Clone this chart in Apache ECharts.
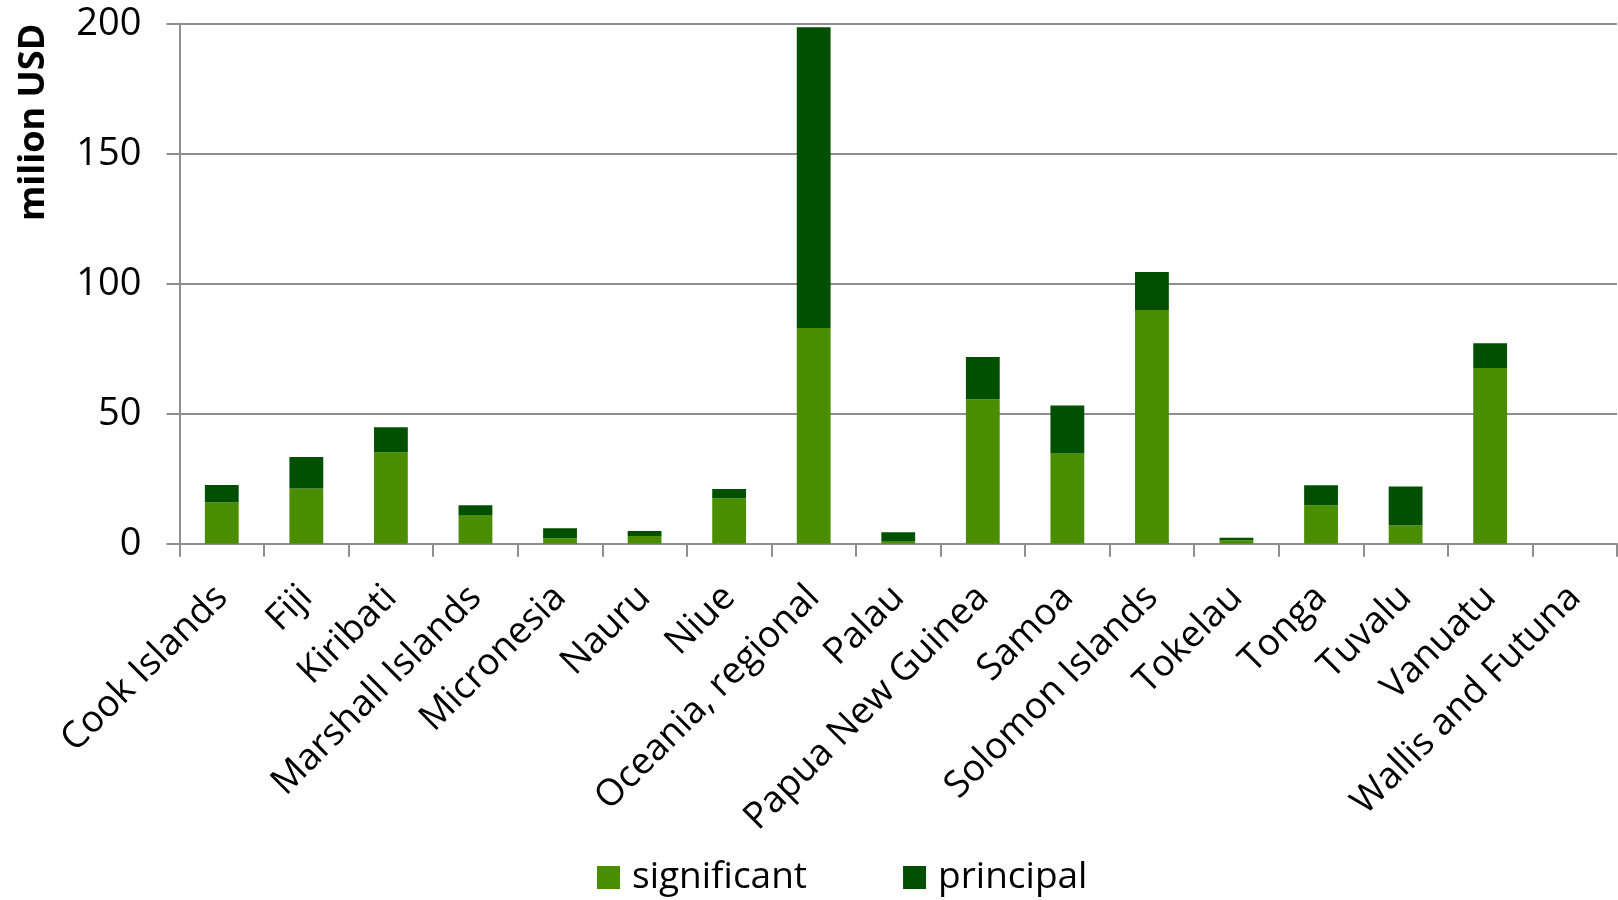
<!DOCTYPE html>
<html>
<head>
<meta charset="utf-8">
<script src="https://cdn.jsdelivr.net/npm/echarts@6/dist/echarts.min.js"></script>
<style>
html,body{margin:0;padding:0;background:#fff;}
#chart{width:1618px;height:900px;}
</style>
</head>
<body>
<div id="chart"></div>
<script>
const categories = ["Cook Islands","Fiji","Kiribati","Marshall Islands","Micronesia","Nauru","Niue","Oceania, regional","Palau","Papua New Guinea","Samoa","Solomon Islands","Tokelau","Tonga","Tuvalu","Vanuatu","Wallis and Futuna"];
const significant = [15.9, 21.2, 35.2, 11.0, 2.1, 3.0, 17.5, 83.0, 1.0, 55.6, 34.9, 89.9, 1.3, 14.8, 7.1, 67.6, 0];
const principal   = [6.7, 12.1, 9.6, 3.8, 3.8, 1.9, 3.5, 115.6, 3.4, 16.2, 18.3, 14.6, 1.0, 7.7, 14.9, 9.5, 0];
const yTicks = [0, 50, 100, 150, 200];

const FONT = '"Open Sans", sans-serif';
const chart = echarts.init(document.getElementById('chart'));
chart.setOption({
  animation: false,
  textStyle: { fontFamily: FONT, color: '#000' },
  grid: { left: 179.5, right: 1, top: 23.7, bottom: 356.3, containLabel: false },
  legend: {
    data: ['significant', 'principal'],
    top: 854,
    left: 592,
    itemWidth: 23,
    itemHeight: 23,
    itemGap: 96,
    icon: 'rect',
    textStyle: { fontFamily: FONT, fontSize: 37, color: '#000', padding: [0, 0, 0, 7] }
  },
  xAxis: {
    type: 'category',
    data: categories,
    axisLine: { lineStyle: { color: '#8e8e8e', width: 2 } },
    axisTick: { show: true, length: 13, lineStyle: { color: '#8e8e8e', width: 2 }, alignWithLabel: false },
    axisLabel: { rotate: 45, fontSize: 37, color: '#000', margin: 48, interval: 0, fontFamily: FONT }
  },
  yAxis: {
    type: 'value',
    min: 0, max: 200, interval: 50,
    name: 'milion USD',
    nameLocation: 'end',
    nameRotate: 90,
    nameGap: 0,
    nameTextStyle: { fontSize: 36, fontWeight: 'bold', color: '#000', fontFamily: FONT, align: 'right', verticalAlign: 'bottom', padding: [0, 0, 128, 0] },
    axisLine: { show: true, lineStyle: { color: '#8e8e8e', width: 2 } },
    axisTick: { show: true, length: 13, lineStyle: { color: '#8e8e8e', width: 2 } },
    splitLine: { lineStyle: { color: '#8e8e8e', width: 2 } },
    axisLabel: { fontSize: 38, color: '#000', margin: 38, fontFamily: FONT,
      formatter: v => yTicks.includes(v) ? String(v) : '' }
  },
  series: [
    { name: 'significant', type: 'bar', stack: 'total', data: significant, barWidth: '40%',
      itemStyle: { color: '#4a8e00' } },
    { name: 'principal', type: 'bar', stack: 'total', data: principal, barWidth: '40%',
      itemStyle: { color: '#005000' } }
  ]
});
</script>
</body>
</html>
